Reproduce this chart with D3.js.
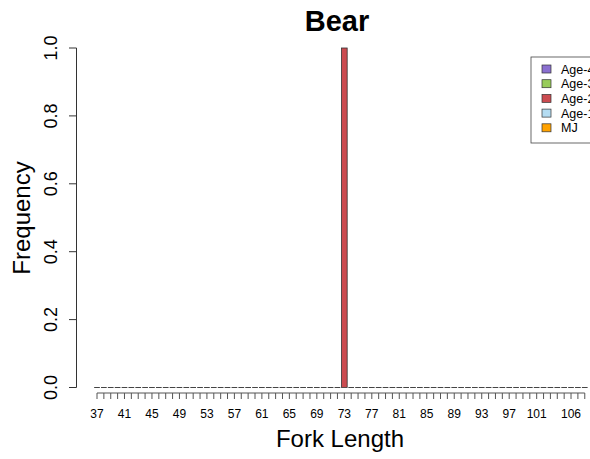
<!DOCTYPE html>
<html>
<head>
    <title>Bear</title>
    <script src="https://d3js.org/d3.v7.min.js"></script>
    <style>
        body { margin: 0; background: #fff; }
        text { font-family: "Liberation Sans", Arial, sans-serif; fill: #000; }
    </style>
</head>
<body>
    <svg width="590" height="459"></svg>
    <script>
        // fork length classes (mm) and the share of fish in each
        const lengths = d3.range(37, 109);
        const frequency = lengths.map(l => l === 73 ? 1.0 : 0);
        const xTickLabels = [37, 41, 45, 49, 53, 57, 61, 65, 69, 73, 77, 81, 85, 89, 93, 97, 101, 106];
        const yTicks = [0, 0.2, 0.4, 0.6, 0.8, 1.0];
        const legendLabels = ["Age-4", "Age-3", "Age-2", "Age-1", "MJ"];
        const legendColors = ["#8a6fd0", "#98cc5a", "#cb4b50", "#b4dcf2", "#ffa200"];
        const barColor = "#cb4b50";

        const svg = d3.select("svg");

        const x = d3.scalePoint()
            .domain(lengths)
            .range([97, 97 + (lengths.length - 1) * 6.87]);
        const barW = x.step() * 0.83;

        const y = d3.scaleLinear()
            .domain([0, 1])
            .range([387.5, 48]);

        const pairs = lengths.map((l, i) => ({ l, f: frequency[i] }));

        // bars with a value
        svg.selectAll(".bar")
            .data(pairs.filter(d => d.f > 0))
            .enter().append("rect")
            .attr("class", "bar")
            .attr("x", d => x(d.l) - barW / 2)
            .attr("y", d => y(d.f))
            .attr("width", barW)
            .attr("height", d => y(0) - y(d.f))
            .attr("fill", barColor)
            .attr("stroke", "#333")
            .attr("stroke-width", 0.8);

        // empty classes show up as flat dashes on the baseline
        svg.selectAll(".empty")
            .data(pairs.filter(d => d.f === 0))
            .enter().append("line")
            .attr("class", "empty")
            .attr("x1", d => x(d.l) - barW / 2)
            .attr("x2", d => x(d.l) + barW / 2)
            .attr("y1", y(0)).attr("y2", y(0))
            .attr("stroke", "#444")
            .attr("stroke-width", 1);

        // x axis: a tick per class, labels only where they fit
        const xAxis = svg.append("g").attr("class", "x axis");
        xAxis.append("line")
            .attr("x1", x(lengths[0])).attr("x2", x(lengths[lengths.length - 1]))
            .attr("y1", 393).attr("y2", 393)
            .attr("stroke", "#555");
        xAxis.selectAll(".tick")
            .data(lengths)
            .enter().append("line")
            .attr("x1", d => x(d)).attr("x2", d => x(d))
            .attr("y1", 393).attr("y2", 399)
            .attr("stroke", "#555");
        xAxis.selectAll(".lab")
            .data(xTickLabels)
            .enter().append("text")
            .attr("x", d => x(d))
            .attr("y", 418)
            .attr("text-anchor", "middle")
            .style("font-size", "12px")
            .text(d => d);

        // y axis
        const yAxis = svg.append("g").attr("class", "y axis");
        yAxis.append("line")
            .attr("x1", 76.5).attr("x2", 76.5)
            .attr("y1", y(0)).attr("y2", y(1))
            .attr("stroke", "#333");
        yAxis.selectAll(".tick")
            .data(yTicks)
            .enter().append("line")
            .attr("x1", 69).attr("x2", 76.5)
            .attr("y1", d => y(d)).attr("y2", d => y(d))
            .attr("stroke", "#333");
        yAxis.selectAll(".lab")
            .data(yTicks)
            .enter().append("text")
            .attr("transform", d => `translate(57,${y(d)}) rotate(-90)`)
            .attr("text-anchor", "middle")
            .style("font-size", "18px")
            .text(d => d.toFixed(1));

        // titles
        svg.append("text")
            .attr("x", 337).attr("y", 31)
            .attr("text-anchor", "middle")
            .style("font-size", "29px")
            .style("font-weight", "bold")
            .text("Bear");
        svg.append("text")
            .attr("x", 340).attr("y", 447)
            .attr("text-anchor", "middle")
            .style("font-size", "24px")
            .text("Fork Length");
        svg.append("text")
            .attr("transform", `translate(30,218) rotate(-90)`)
            .attr("text-anchor", "middle")
            .style("font-size", "24px")
            .text("Frequency");

        // legend, running off the right edge as in the original
        const legend = svg.append("g").attr("transform", "translate(531,57)");
        legend.append("rect")
            .attr("x", 0).attr("y", 0)
            .attr("width", 90).attr("height", 86)
            .attr("fill", "#fff")
            .attr("stroke", "#444")
            .attr("stroke-width", 0.8);
        const rows = legend.selectAll(".row")
            .data(legendLabels)
            .enter().append("g")
            .attr("transform", (d, i) => `translate(0,${12 + i * 14.7})`);
        rows.append("rect")
            .attr("x", 11).attr("y", -4)
            .attr("width", 9).attr("height", 8)
            .attr("fill", (d, i) => legendColors[i])
            .attr("stroke", "#333")
            .attr("stroke-width", 0.7);
        rows.append("text")
            .attr("x", 30).attr("y", 4.5)
            .style("font-size", "12.5px")
            .text(d => d);
    </script>
</body>
</html>
